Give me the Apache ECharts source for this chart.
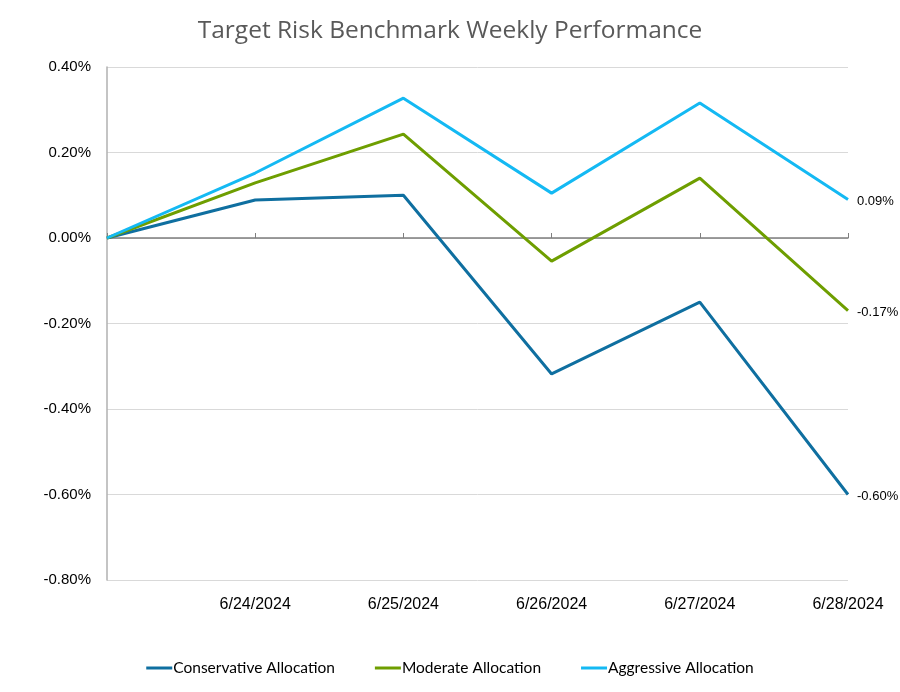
<!DOCTYPE html>
<html><head><meta charset="utf-8">
<script src="https://cdn.jsdelivr.net/npm/echarts@6/dist/echarts.min.js"></script>
<style>html,body{margin:0;padding:0;background:#fff}#c{width:900px;height:692px}</style>
</head><body><div id="c"></div>
<script>
var categories = ['', '6/24/2024', '6/25/2024', '6/26/2024', '6/27/2024', '6/28/2024'];
var conservative = [0, 0.089, 0.10, -0.318, -0.150, -0.60];
var moderate = [0, 0.129, 0.243, -0.054, 0.140, -0.17];
var aggressive = [0, 0.152, 0.327, 0.105, 0.316, 0.09];
var seriesNames = ['Conservative Allocation', 'Moderate Allocation', 'Aggressive Allocation'];
var colors = ['#0F6FA0', '#6E9E00', '#14B9F3'];

var chart = echarts.init(document.getElementById('c'));
function mk(name, data, color) {
  var last = data.length - 1;
  return {
    name: name, type: 'line', data: data.map(function (v, i) {
      return i === last ? { value: v, label: { show: true } } : v;
    }),
    xAxisIndex: 0, yAxisIndex: 0,
    symbol: 'circle', symbolSize: 0, showSymbol: true,
    lineStyle: { width: 3, color: color }, itemStyle: { color: color },
    label: { show: false, position: 'right', distance: 9, offset: [0, 2], color: '#000', fontFamily: 'Liberation Sans', fontSize: 13,
      formatter: function (p) { return p.value.toFixed(2) + '%'; } },
    emphasis: { disabled: true },
    z: 3
  };
}
chart.setOption({
  animation: false,
  title: { text: 'Target Risk Benchmark Weekly Performance', left: 'center', top: 14,
    textStyle: { color: '#595959', fontFamily: 'Open Sans', fontWeight: 'normal', fontSize: 24.5 } },
  grid: { left: 107, right: 52, top: 67, bottom: 112 },
  legend: {
    bottom: 11, left: 'center', itemGap: 40, itemWidth: 26, itemHeight: 3,
    textStyle: { fontFamily: 'Lato', fontSize: 15.5, color: '#000', padding: [0, 0, 0, -4] },
    data: seriesNames.map(function (n) { return { name: n, icon: 'rect' }; })
  },
  xAxis: [
    { type: 'category', data: categories, boundaryGap: false, position: 'bottom',
      axisLine: { show: false, onZero: false }, axisTick: { show: false },
      axisLabel: { color: '#000', fontFamily: 'Liberation Sans', fontSize: 16, margin: 17, interval: 0 },
      splitLine: { show: false } },
    { type: 'category', data: categories, boundaryGap: false,
      axisLine: { show: true, onZero: true, lineStyle: { color: '#7f7f7f', width: 1.5 } },
      axisTick: { show: true, length: 5, inside: false, lineStyle: { color: '#7f7f7f' } },
      axisLabel: { show: false }, splitLine: { show: false } }
  ],
  yAxis: {
    type: 'value', min: -0.8, max: 0.4, interval: 0.2,
    axisLine: { show: true, lineStyle: { color: '#b0b0b0', width: 1.5 } },
    axisTick: { show: false },
    axisLabel: { color: '#000', fontFamily: 'Liberation Sans', fontSize: 15, margin: 16,
      formatter: function (v) { return v.toFixed(2) + '%'; } },
    splitLine: { lineStyle: { color: '#d9d9d9', width: 1 } }
  },
  series: [
    mk(seriesNames[0], conservative, colors[0]),
    mk(seriesNames[1], moderate, colors[1]),
    mk(seriesNames[2], aggressive, colors[2])
  ]
});
</script></body></html>
